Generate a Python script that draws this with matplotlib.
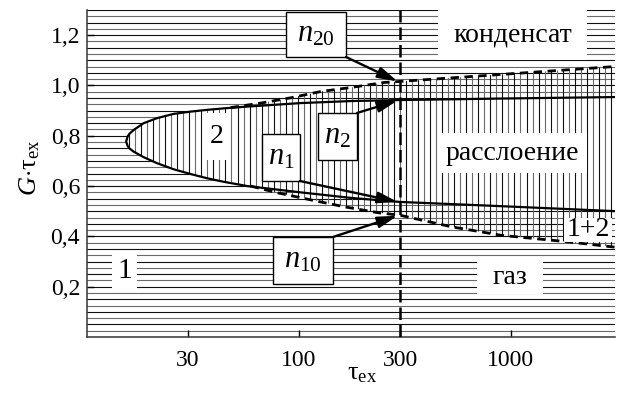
import numpy as np
import matplotlib
matplotlib.use("Agg")
import matplotlib.pyplot as plt
from matplotlib.patches import Polygon, Rectangle
from matplotlib.ticker import NullLocator

plt.rcParams["font.family"] = "Liberation Serif"
plt.rcParams["mathtext.fontset"] = "custom"
plt.rcParams["mathtext.rm"] = "Liberation Serif"
plt.rcParams["mathtext.it"] = "Liberation Serif:italic"

# --- граница области 2 (сплошная линия) ---
tau_solid = [15.3, 15.56, 15.9, 16.6, 18.5, 21.4, 25.6, 30.8, 36.9, 44.2, 57.1, 102, 176, 300, 906, 3180]
g_solid_up = [0.777, 0.798, 0.809, 0.823, 0.850, 0.870, 0.887, 0.896, 0.903, 0.909, 0.916, 0.930, 0.938, 0.942, 0.948, 0.954]
g_solid_low = [0.777, 0.759, 0.749, 0.737, 0.715, 0.691, 0.667, 0.648, 0.631, 0.617, 0.600, 0.575, 0.553, 0.537, 0.520, 0.500]

# --- пунктирные границы ---
tau_dash_up = [47.6, 66.1, 91.6, 127, 176, 253, 300, 906, 3180]
g_dash_up = [0.912, 0.930, 0.951, 0.976, 0.992, 1.012, 1.016, 1.044, 1.076]
tau_dash_low = [59.2, 79.5, 114, 163, 237, 300, 525, 906, 1880, 3180]
g_dash_low = [0.600, 0.573, 0.545, 0.518, 0.494, 0.484, 0.438, 0.404, 0.378, 0.356]

tau_line = 300
x_ticks = [30, 100, 300, 1000]
y_ticks = [0.2, 0.4, 0.6, 0.8, 1.0, 1.2]

W, H = 620, 394
fig = plt.figure(figsize=(W / 100, H / 100), dpi=100)
ax = fig.add_axes([87 / W, 1 - 337 / H, 528 / W, 327.5 / H])
ax.set_xscale("log")
ax.set_xlim(10, 3100)
ax.set_ylim(0, 1.302)


def px(x, y):
    return (x / W, 1 - y / H)


# горизонтальная штриховка везде (чередование тёмных и серых линий)
for i, g in enumerate(np.arange(0.025, 1.31, 0.025)):
    ax.axhline(g, color="#111111" if i % 2 else "#6a6a6a", lw=0.8, zorder=1)

# внутри области 2 - без горизонтальной штриховки
tau_s = np.array(tau_solid)
inner = np.column_stack([np.r_[tau_s, tau_s[::-1]],
                         np.r_[g_solid_up, g_solid_low[::-1]]])
ax.add_patch(Polygon(inner, closed=True, fc="white", ec="none", zorder=2))

# внешняя огибающая - вертикальная штриховка
up_t = np.r_[tau_s[tau_s < tau_dash_up[0]], tau_dash_up]
up_g = np.r_[np.array(g_solid_up)[tau_s < tau_dash_up[0]], g_dash_up]
lo_t = np.r_[tau_s[tau_s < tau_dash_low[0]], tau_dash_low]
lo_g = np.r_[np.array(g_solid_low)[tau_s < tau_dash_low[0]], g_dash_low]
outer = np.column_stack([np.r_[up_t, lo_t[::-1]], np.r_[up_g, lo_g[::-1]]])
outer_patch = Polygon(outer, closed=True, fc="none", ec="none")
ax.add_patch(outer_patch)
vx = np.logspace(1, 3.5, 89)
vcol = ["#111111" if i % 2 else "#6a6a6a" for i in range(len(vx))]
vl = ax.vlines(vx, 0, 1.3, colors=vcol, lw=0.8, zorder=3)
vl.set_clip_path(outer_patch)

# линии
ax.plot(np.r_[tau_s[::-1], tau_s[1:]], np.r_[g_solid_up[::-1], g_solid_low[1:]],
        color="k", lw=1.6, zorder=4)
ax.plot(tau_dash_up, g_dash_up, color="k", lw=2.0, dashes=(3, 2), zorder=4)
ax.plot(tau_dash_low, g_dash_low, color="k", lw=2.0, dashes=(3, 2), zorder=4)
ax.axvline(tau_line, color="k", lw=1.8, dashes=(5, 2), zorder=4)


def box(x0, y0, x1, y1, text, size, edge=False, dy=0):
    ax.add_patch(Rectangle(px(x0, y1), (x1 - x0) / W, (y1 - y0) / H,
                           transform=fig.transFigure, fc="white",
                           ec="k" if edge else "none", lw=1.0, zorder=5))
    ax.text((x0 + x1) / 2 / W, 1 - ((y0 + y1) / 2 + dy) / H, text,
            transform=fig.transFigure, ha="center", va="center",
            fontsize=size, zorder=6)


box(438, 10, 587, 60, "конденсат", 20)
box(438, 133, 587, 173, "расслоение", 20)
box(477, 261, 543, 294, "газ", 20)
box(564, 218, 612, 242, "1+2", 20)
box(112, 254, 137, 289, "1", 21)
box(203, 113, 230, 160, "2", 20)
box(286, 12, 346, 57, r"$n_{20}$", 22, edge=True)
box(318, 113, 357, 160, r"$n_2$", 22, edge=True)
box(262, 134, 300, 181, r"$n_1$", 22, edge=True)
box(273, 237, 333, 284, r"$n_{10}$", 22, edge=True)


def arrow(x0, y0, tip):
    ax.annotate("", xy=tip, xycoords="data", xytext=px(x0, y0),
                textcoords="figure fraction",
                arrowprops=dict(arrowstyle="-|>,head_length=0.6,head_width=0.17",
                                color="k", lw=1.7, shrinkA=0, shrinkB=0,
                                mutation_scale=20), zorder=7)


arrow(346, 57, (292, 1.016))
arrow(357, 113, (292, 0.940))
arrow(300, 181, (292, 0.537))
arrow(333, 237, (292, 0.482))

ax.set_xticks(x_ticks)
ax.set_xticklabels([str(t) for t in x_ticks])
ax.xaxis.set_minor_locator(NullLocator())
ax.set_yticks(y_ticks)
ax.set_yticklabels([f"{t:.1f}".replace(".", ",") for t in y_ticks])
ax.tick_params(axis="both", direction="in", length=5, width=1, labelsize=17)
ax.tick_params(axis="x", pad=9)
ax.tick_params(axis="y", pad=5)
for s in ["top", "right"]:
    ax.spines[s].set_visible(False)
for s in ["left", "bottom"]:
    ax.spines[s].set_linewidth(1.2)
    ax.spines[s].set_color("#444444")

fig.text(362 / W, 1 - 374 / H, r"$\mathrm{\tau}_\mathrm{ex}$", ha="center", va="center", fontsize=19)
fig.text(30 / W, 1 - 168 / H, r"$G{\cdot}\mathrm{\tau}_\mathrm{ex}$", ha="center", va="center",
         fontsize=19, rotation=90)

fig.savefig("out.png", dpi=100)
